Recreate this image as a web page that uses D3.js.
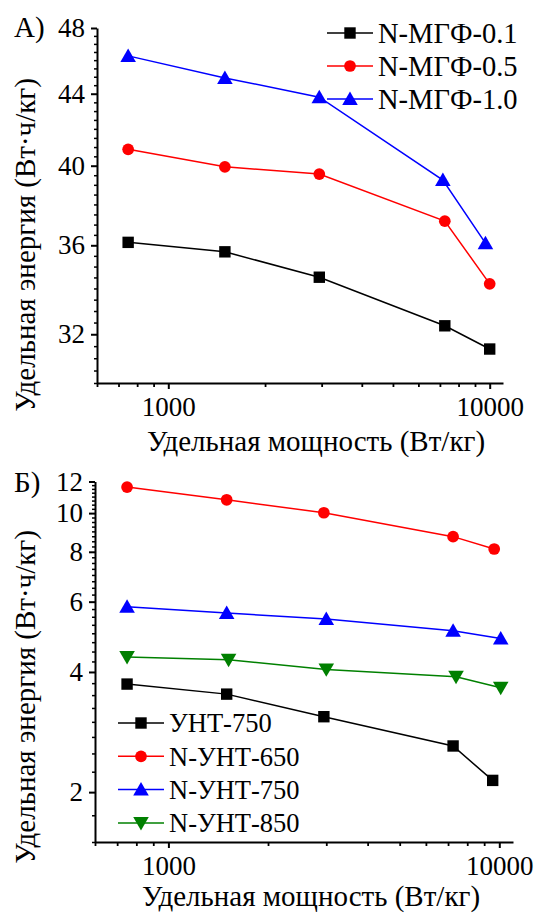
<!DOCTYPE html>
<html>
<head>
<meta charset="utf-8">
<script src="https://cdn.jsdelivr.net/npm/d3@7"></script>
<style>
  html, body { margin: 0; padding: 0; background: #fff; }
  svg text { font-family: "Liberation Serif"; fill: #000; }
</style>
</head>
<body>
<svg id="chart" width="536" height="913"></svg>
<script>
// ---------- DATA ----------
// Panel A
const seriesNamesA = ["N-МГФ-0.1", "N-МГФ-0.5", "N-МГФ-1.0"];
const powerA01 = [750, 1500, 2950, 7250, 10000];
const energyA01 = [36.14, 35.69, 34.51, 32.36, 31.38];
const powerA05 = [750, 1500, 2950, 7250, 10000];
const energyA05 = [40.88, 39.94, 39.56, 37.17, 34.21];
const powerA10 = [750, 1500, 2950, 7150, 9700];
const energyA10 = [46.26, 44.93, 43.80, 39.25, 36.10];
const yTicksA = [32, 36, 40, 44, 48];

// Panel Б
const seriesNamesB = ["УНТ-750", "N-УНТ-650", "N-УНТ-750", "N-УНТ-850"];
const powerB750 = [750, 1500, 2950, 7250, 9550];
const energyB750 = [3.73, 3.52, 3.09, 2.61, 2.14];
const powerBN650 = [750, 1500, 2950, 7250, 9650];
const energyBN650 = [11.62, 10.80, 10.02, 8.73, 8.13];
const powerBN750 = [750, 1500, 3000, 7250, 10100];
const energyBN750 = [5.83, 5.62, 5.43, 5.07, 4.85];
const powerBN850 = [750, 1520, 3000, 7400, 10100];
const energyBN850 = [4.36, 4.29, 4.06, 3.89, 3.65];
const yTicksB = [2, 4, 6, 8, 10, 12];

const xTicks = [1000, 10000];
const xTitle = "Удельная мощность (Вт/кг)";
const yTitle = "Удельная энергия (Вт·ч/кг)";

// ---------- DRAW ----------
const svg = d3.select("#chart");
const TICK_FONT = 27, TITLE_FONT = 29;
const FAMILY = '"Liberation Serif"';

const colors = { black: "#000000", red: "#ff0000", blue: "#0000ff", green: "#008000" };

function markerPath(type) {
  if (type === "square") return d3.symbol().type(d3.symbolSquare).size(130)();
  if (type === "circle") return d3.symbol().type(d3.symbolCircle).size(108)();
  return d3.symbol().type(d3.symbolTriangle).size(105)();
}
function markerTransform(type, x, y) {
  if (type === "tri") return `translate(${x},${y + 1.5})`;
  if (type === "tridown") return `translate(${x},${y - 1.5}) rotate(180)`;
  return `translate(${x},${y})`;
}

function panel(cfg) {
  const g = svg.append("g");
  const x = d3.scaleLog().domain(cfg.xDomain).range(cfg.xRange);
  const y = d3.scaleLog().domain(cfg.yDomain).range(cfg.yRange);

  const xMinor = [];
  for (let v = 600; v < 1000; v += 100) xMinor.push(v);
  for (let v = 2000; v < 10000; v += 1000) xMinor.push(v);

  const xAxis = d3.axisBottom(x).tickValues(xTicks).tickFormat(d3.format("d"))
    .tickSizeInner(6).tickSizeOuter(0).tickPadding(4);
  const gx = g.append("g").attr("transform", `translate(0,${cfg.yRange[0]})`).call(xAxis)
    .attr("font-family", FAMILY);
  gx.select(".domain").attr("stroke-width", 2);
  gx.selectAll(".tick line").attr("stroke-width", 2);
  gx.selectAll(".tick text").style("font-size", TICK_FONT + "px").attr("dy", "0.84em")
    .style("font-family", FAMILY);
  const gxm = g.append("g").attr("transform", `translate(0,${cfg.yRange[0]})`)
    .call(d3.axisBottom(x).tickValues(xMinor).tickFormat("").tickSizeInner(4).tickSizeOuter(0));
  gxm.select(".domain").remove();
  gxm.selectAll(".tick line").attr("stroke-width", 1.8);

  const yAxis = d3.axisLeft(y).tickValues(cfg.yTicks).tickFormat(d3.format("d"))
    .tickSizeInner(6).tickSizeOuter(0).tickPadding(6);
  const gy = g.append("g").attr("transform", `translate(${cfg.xRange[0]},0)`).call(yAxis)
    .attr("font-family", FAMILY);
  gy.select(".domain").attr("stroke-width", 2);
  gy.selectAll(".tick line").attr("stroke-width", 2);
  gy.selectAll(".tick text").style("font-size", TICK_FONT + "px").style("font-family", FAMILY);
  const yMinor = [];
  for (let v = cfg.yDomain[0]; v <= cfg.yDomain[1] + 1e-9; v += cfg.yMinorStep) {
    const r = Math.round(v * 100) / 100;
    if (!cfg.yTicks.includes(r)) yMinor.push(r);
  }
  const gym = g.append("g").attr("transform", `translate(${cfg.xRange[0]},0)`)
    .call(d3.axisLeft(y).tickValues(yMinor).tickFormat("").tickSizeInner(3).tickSizeOuter(0));
  gym.select(".domain").remove();
  gym.selectAll(".tick line").attr("stroke-width", 1.5);

  g.append("text").attr("x", cfg.xTitleX).attr("y", cfg.xTitleY).attr("text-anchor", "middle")
    .style("font-size", TITLE_FONT + "px").style("font-family", FAMILY).text(xTitle);
  g.append("text").attr("transform", `translate(${cfg.yTitleX},${cfg.yTitleY}) rotate(-90)`)
    .attr("text-anchor", "middle").style("font-size", TITLE_FONT + "px").style("font-family", FAMILY).text(yTitle);
  g.append("text").attr("x", 14).attr("y", cfg.labelY).style("font-size", TITLE_FONT + "px")
    .style("font-family", FAMILY).text(cfg.label);

  const line = d3.line().x(d => x(d[0])).y(d => y(d[1]));
  cfg.series.forEach(s => {
    const pts = s.px.map((p, i) => [p, s.py[i]]);
    g.append("path").attr("d", line(pts)).attr("fill", "none")
      .attr("stroke", s.color).attr("stroke-width", 1.5);
    g.selectAll(null).data(pts).enter().append("path")
      .attr("d", markerPath(s.marker))
      .attr("transform", d => markerTransform(s.marker, x(d[0]), y(d[1])))
      .attr("fill", s.color);
  });

  cfg.series.forEach((s, i) => {
    const ly = cfg.legend.y0 + i * cfg.legend.dy;
    g.append("line").attr("x1", cfg.legend.x1).attr("x2", cfg.legend.x2)
      .attr("y1", ly).attr("y2", ly).attr("stroke", s.color).attr("stroke-width", 1.5);
    g.append("path").attr("d", markerPath(s.marker))
      .attr("transform", markerTransform(s.marker, (cfg.legend.x1 + cfg.legend.x2) / 2, ly))
      .attr("fill", s.color);
    g.append("text").attr("x", cfg.legend.tx).attr("y", ly).attr("dy", "0.35em")
      .style("font-size", cfg.legend.font + "px").style("font-family", FAMILY).text(s.name);
  });
}

panel({
  label: "A)", labelY: 37,
  xDomain: [600, 11000], xRange: [97, 503],
  yDomain: [30, 48], yRange: [383, 28], yTicks: yTicksA, yMinorStep: 0.5,
  xTitleX: 316, xTitleY: 451, yTitleX: 35, yTitleY: 245,
  legend: { x1: 327, x2: 373, tx: 378, y0: 33, dy: 33, font: 28.5 },
  series: [
    { name: seriesNamesA[0], px: powerA01, py: energyA01, color: colors.black, marker: "square" },
    { name: seriesNamesA[1], px: powerA05, py: energyA05, color: colors.red, marker: "circle" },
    { name: seriesNamesA[2], px: powerA10, py: energyA10, color: colors.blue, marker: "tri" }
  ]
});

panel({
  label: "Б)", labelY: 492,
  xDomain: [600, 11000], xRange: [95, 513],
  yDomain: [1.5, 12], yRange: [842, 481.5], yTicks: yTicksB, yMinorStep: 0.25,
  xTitleX: 311, xTitleY: 906, yTitleX: 35, yTitleY: 697,
  legend: { x1: 118, x2: 164, tx: 169, y0: 723, dy: 33.3, font: 26.5 },
  series: [
    { name: seriesNamesB[0], px: powerB750, py: energyB750, color: colors.black, marker: "square" },
    { name: seriesNamesB[1], px: powerBN650, py: energyBN650, color: colors.red, marker: "circle" },
    { name: seriesNamesB[2], px: powerBN750, py: energyBN750, color: colors.blue, marker: "tri" },
    { name: seriesNamesB[3], px: powerBN850, py: energyBN850, color: colors.green, marker: "tridown" }
  ]
});
</script>
</body>
</html>
